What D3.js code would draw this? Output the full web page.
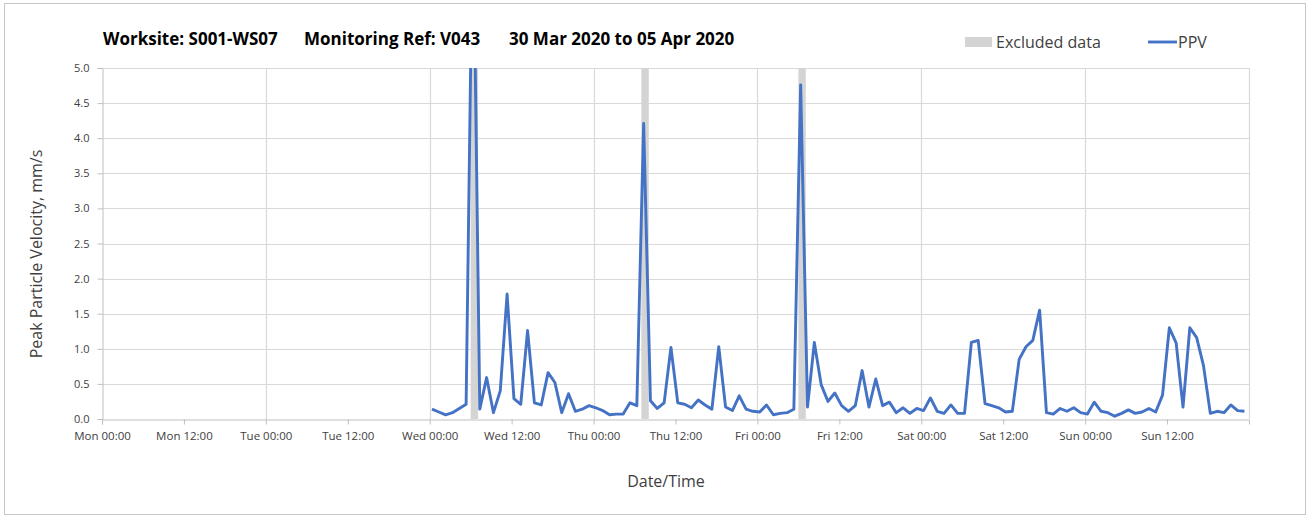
<!DOCTYPE html>
<html>
<head>
<meta charset="utf-8">
<script src="https://cdn.jsdelivr.net/npm/d3@7/dist/d3.min.js"></script>
<style>
  html, body { margin: 0; padding: 0; background: #fff; }
  svg { display: block; }
  text { font-family: "Open Sans", "Noto Sans", sans-serif; }
</style>
</head>
<body>
<svg id="chart" width="1314" height="518"></svg>
<script>
// ---- Data ----
const titleParts = ["Worksite: S001-WS07", "Monitoring Ref: V043", "30 Mar 2020 to 05 Apr 2020"];
const seriesName = "PPV";
const excludedName = "Excluded data";
const yTitle = "Peak Particle Velocity, mm/s";
const xTitle = "Date/Time";

// first reading time and hourly readings (mm/s)
const firstReading = "2020-04-01T00:20:00";
const readingIntervalHours = 1;
const ppvValues = [
  0.14, 0.10, 0.06, 0.09, 0.15, 0.21, 7.50, 0.14, 0.59, 0.09,
  0.40, 1.78, 0.29, 0.21, 1.26, 0.23, 0.20, 0.66, 0.52, 0.09,
  0.36, 0.11, 0.14, 0.19, 0.16, 0.12, 0.06, 0.07, 0.07, 0.23,
  0.19, 4.21, 0.26, 0.15, 0.23, 1.02, 0.23, 0.21, 0.16, 0.27,
  0.20, 0.14, 1.03, 0.17, 0.12, 0.33, 0.14, 0.11, 0.10, 0.20,
  0.06, 0.08, 0.09, 0.14, 4.76, 0.17, 1.09, 0.49, 0.25, 0.37,
  0.19, 0.11, 0.19, 0.69, 0.17, 0.57, 0.19, 0.24, 0.09, 0.16,
  0.08, 0.15, 0.12, 0.30, 0.11, 0.08, 0.20, 0.08, 0.08, 1.09,
  1.12, 0.22, 0.19, 0.16, 0.10, 0.11, 0.85, 1.03, 1.12, 1.55,
  0.09, 0.07, 0.15, 0.11, 0.16, 0.09, 0.07, 0.24, 0.11, 0.09,
  0.04, 0.08, 0.13, 0.08, 0.10, 0.15, 0.10, 0.34, 1.30, 1.08,
  0.17, 1.30, 1.16, 0.76, 0.08, 0.11, 0.09, 0.20, 0.12, 0.11
];

// excluded data periods
const excludedStarts = ["2020-04-01T06:00:00", "2020-04-02T07:00:00", "2020-04-03T06:00:00"];
const excludedEnds   = ["2020-04-01T07:05:00", "2020-04-02T08:05:00", "2020-04-03T07:05:00"];

// axis
const xDomain = ["2020-03-30T00:00:00", "2020-04-06T00:00:00"];
const yDomain = [0, 5];
const yTicks = [0, 0.5, 1, 1.5, 2, 2.5, 3, 3.5, 4, 4.5, 5];
const xTickLabels = ["Mon 00:00", "Mon 12:00", "Tue 00:00", "Tue 12:00", "Wed 00:00", "Wed 12:00",
                     "Thu 00:00", "Thu 12:00", "Fri 00:00", "Fri 12:00", "Sat 00:00", "Sat 12:00",
                     "Sun 00:00", "Sun 12:00"];

// ---- Build ----
const parse = d3.isoParse;
const t0 = parse(firstReading);
const data = ppvValues.map((v, i) => ({ t: d3.timeMinute.offset(t0, i * readingIntervalHours * 60), v }));
const bands = excludedStarts.map((s, i) => ({ s: parse(s), e: parse(excludedEnds[i]) }));

const svg = d3.select("#chart");
const W = 1314, H = 518;
const m = { left: 102, right: W - 1249, top: 68, bottom: H - 419 };
const iw = W - m.left - m.right, ih = H - m.top - m.bottom;

// outer frame
svg.append("rect").attr("x", 4.5).attr("y", 3.5).attr("width", 1301).attr("height", 511)
  .attr("fill", "#fff").attr("stroke", "#c6c6c6").attr("stroke-width", 1);

const x = d3.scaleTime().domain(xDomain.map(parse)).range([m.left, m.left + iw]);
const y = d3.scaleLinear().domain(yDomain).range([m.top + ih, m.top]);

const xTickDates = d3.timeHour.every(12).range(x.domain()[0], x.domain()[1]);
const dayDates = d3.timeDay.range(x.domain()[0], d3.timeDay.offset(x.domain()[1], 1));

// horizontal gridlines
svg.append("g").selectAll("line").data(yTicks.filter(d => d > 0)).join("line")
  .attr("x1", m.left).attr("x2", m.left + iw)
  .attr("y1", d => Math.round(y(d)) + 0.5).attr("y2", d => Math.round(y(d)) + 0.5)
  .attr("stroke", "#d9d9d9").attr("stroke-width", 1.2);

// vertical gridlines at days
svg.append("g").selectAll("line").data(dayDates.filter(d => +d > +x.domain()[0])).join("line")
  .attr("x1", d => Math.round(x(d)) + 0.5).attr("x2", d => Math.round(x(d)) + 0.5)
  .attr("y1", m.top).attr("y2", m.top + ih)
  .attr("stroke", "#d9d9d9").attr("stroke-width", 1.2);

// excluded bands
svg.append("g").selectAll("rect").data(bands).join("rect")
  .attr("x", d => x(d.s)).attr("width", d => x(d.e) - x(d.s))
  .attr("y", m.top).attr("height", ih)
  .attr("fill", "#d4d4d4");

// clip
svg.append("defs").append("clipPath").attr("id", "clip")
  .append("rect").attr("x", m.left).attr("y", m.top).attr("width", iw).attr("height", ih);

// line
const line = d3.line().x(d => x(d.t)).y(d => y(d.v));
svg.append("path").datum(data).attr("d", line)
  .attr("clip-path", "url(#clip)")
  .attr("fill", "none").attr("stroke", "#4472c4").attr("stroke-width", 2.9)
  .attr("stroke-linejoin", "round");

// y axis
const yAxis = d3.axisLeft(y).tickValues(yTicks).tickFormat(d3.format(".1f")).tickSize(5).tickPadding(8);
const gy = svg.append("g").attr("transform", `translate(${m.left + 0.5},0)`).call(yAxis);
gy.select(".domain").attr("stroke", "#bfbfbf");
gy.selectAll(".tick line").attr("stroke", "#bfbfbf");
gy.selectAll(".tick text").attr("fill", "#404040").style("font-size", "11px");

// x axis
const xAxis = d3.axisBottom(x).tickValues(xTickDates).tickFormat((d, i) => xTickLabels[i])
  .tickSizeInner(5).tickSizeOuter(5).tickPadding(7);
const gx = svg.append("g").attr("transform", `translate(0,${m.top + ih + 0.5})`).call(xAxis);
gx.select(".domain").attr("stroke", "#bfbfbf");
gx.selectAll(".tick line").attr("stroke", "#bfbfbf");
gx.selectAll(".tick text").attr("fill", "#404040").style("font-size", "11.5px");

// titles
const titleX = [103, 304, 509];
svg.append("g").selectAll("text").data(titleParts).join("text")
  .attr("x", (d, i) => titleX[i]).attr("y", 45)
  .attr("fill", "#000").style("font-size", "17px").style("font-weight", "bold")
  .text(d => d);

svg.append("text").attr("transform", "translate(42,254) rotate(-90)")
  .attr("text-anchor", "middle").attr("fill", "#404040").style("font-size", "16px").text(yTitle);

svg.append("text").attr("x", 666).attr("y", 487)
  .attr("text-anchor", "middle").attr("fill", "#404040").style("font-size", "16px").text(xTitle);

// legend
const lg = svg.append("g");
lg.append("rect").attr("x", 965).attr("y", 37).attr("width", 27).attr("height", 10).attr("fill", "#d4d4d4");
lg.append("text").attr("x", 996).attr("y", 48).attr("fill", "#404040").style("font-size", "16px").text(excludedName);
lg.append("line").attr("x1", 1148).attr("x2", 1177).attr("y1", 42).attr("y2", 42)
  .attr("stroke", "#4472c4").attr("stroke-width", 2.9);
lg.append("text").attr("x", 1178).attr("y", 48).attr("fill", "#404040").style("font-size", "16px").text(seriesName);
</script>
</body>
</html>
